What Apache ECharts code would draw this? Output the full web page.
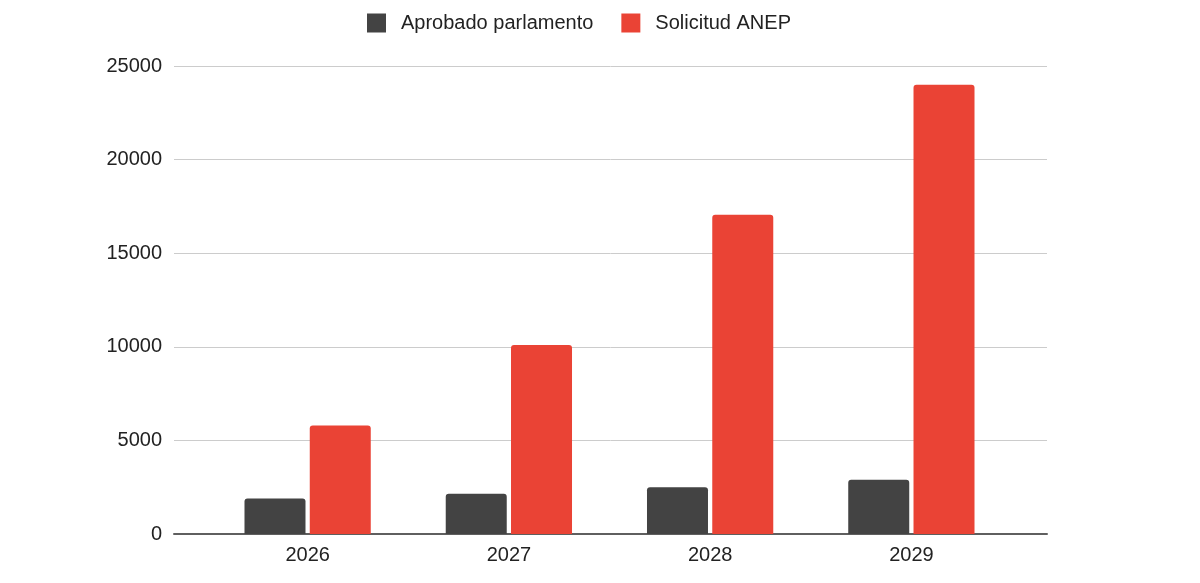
<!DOCTYPE html>
<html>
<head>
<meta charset="utf-8">
<script src="https://cdn.jsdelivr.net/npm/echarts@6/dist/echarts.min.js"></script>
<style>
  html, body { margin: 0; padding: 0; background: #fff; }
  #chart { width: 1200px; height: 583px; }
</style>
</head>
<body>
<div id="chart"></div>
<script>
var years = ['2026', '2027', '2028', '2029'];
var aprobado = [1900, 2150, 2500, 2900];
var solicitud = [5800, 10100, 17050, 24000];
var yTicks = [0, 5000, 10000, 15000, 20000, 25000];

var myChart = echarts.init(document.getElementById('chart'));
var font = '"Liberation Sans", Arial, sans-serif';

var option = {
	animation: false,
	backgroundColor: '#ffffff',
	legend: {
		top: 8,
		left: 362,
		itemWidth: 19,
		itemHeight: 19,
		itemGap: 28,
		icon: 'rect',
		textStyle: { color: '#222222', fontSize: 20, fontFamily: font, padding: [0, 0, 0, 10] },
		data: ['Aprobado parlamento', 'Solicitud ANEP']
	},
	grid: [
		// outer grid: y labels, gridlines, axis line
		{ left: 174, right: 153, top: 66, bottom: 49 },
		// inner grid: bars
		{ left: 207, right: 188, top: 66, bottom: 49 }
	],
	xAxis: [
		{
			gridIndex: 0, type: 'value', min: 0, max: 1,
			axisLine: { show: true, onZero: false, lineStyle: { color: '#5f5f5f', width: 2 } },
			axisTick: { show: false }, axisLabel: { show: false }, splitLine: { show: false }
		},
		{
			gridIndex: 1, type: 'category', data: years,
			axisLine: { show: false }, axisTick: { show: false },
			axisLabel: { color: '#222222', fontSize: 20, fontFamily: font, margin: 11 }
		}
	],
	yAxis: [
		{
			gridIndex: 0, type: 'value', min: yTicks[0], max: yTicks[yTicks.length - 1], interval: 5000,
			axisLine: { show: false }, axisTick: { show: false },
			axisLabel: { color: '#222222', fontSize: 20, fontFamily: font, margin: 12,
				formatter: function (v) { return String(v); } },
			splitLine: { lineStyle: { color: '#cccccc', width: 1 } }
		},
		{
			gridIndex: 1, type: 'value', min: yTicks[0], max: yTicks[yTicks.length - 1],
			show: false, splitLine: { show: false }
		}
	],
	series: [
		{
			name: 'Aprobado parlamento', type: 'bar', xAxisIndex: 1, yAxisIndex: 1,
			barWidth: 61, barGap: '7%', z: 3,
			itemStyle: { color: '#434343', borderRadius: [3, 3, 0, 0] },
			data: aprobado
		},
		{
			name: 'Solicitud ANEP', type: 'bar', xAxisIndex: 1, yAxisIndex: 1,
			barWidth: 61, barGap: '7%', z: 3,
			itemStyle: { color: '#ea4335', borderRadius: [3, 3, 0, 0] },
			data: solicitud
		}
	]
};
myChart.setOption(option);
</script>
</body>
</html>
